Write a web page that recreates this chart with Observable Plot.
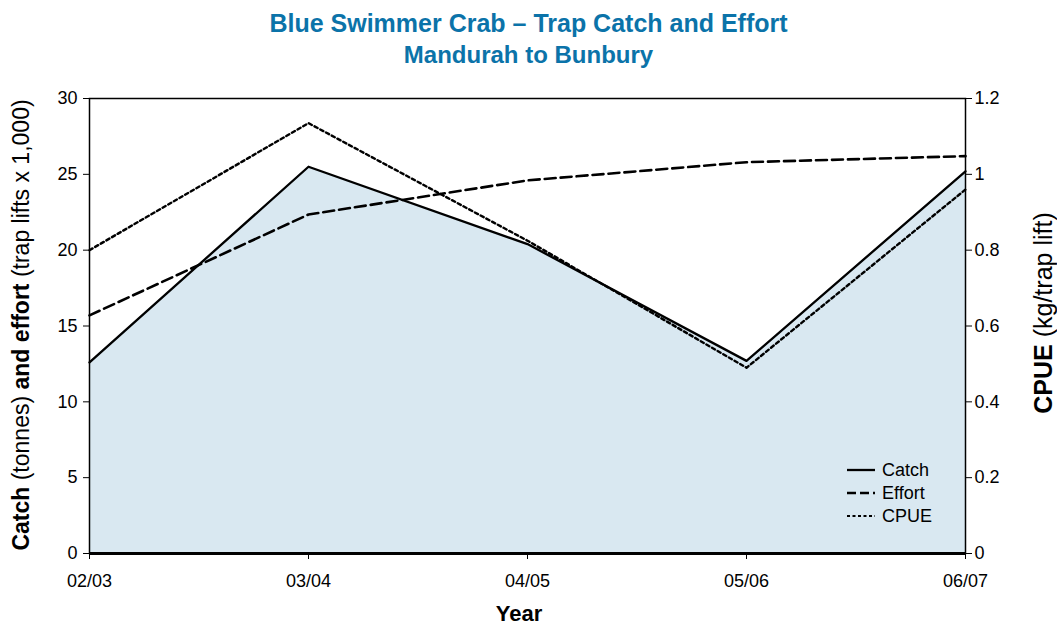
<!DOCTYPE html>
<html>
<head>
<meta charset="utf-8">
<script src="https://cdn.jsdelivr.net/npm/d3@7"></script>
<script src="https://cdn.jsdelivr.net/npm/@observablehq/plot@0.6"></script>
<style>
  body { margin: 0; background: #fff; }
  #wrap { position: relative; width: 1057px; }
  #head { height: 75px; text-align: center; font-family: "Liberation Sans", Arial, sans-serif; font-weight: bold; color: #0b73a9; }
  #t1 { font-size: 25px; padding-top: 8px; line-height: 30px; }
  #t2 { font-size: 24px; line-height: 30px; padding-top: 2px; }
</style>
</head>
<body>
<div id="wrap">
  <div id="head"><div id="t1">Blue Swimmer Crab – Trap Catch and Effort</div><div id="t2">Mandurah to Bunbury</div></div>
  <div id="chart"></div>
</div>
<script>
const years = ["02/03", "03/04", "04/05", "05/06", "06/07"];
const catchTonnes = [12.6, 25.5, 20.4, 12.7, 25.2];
const effortK = [15.7, 22.35, 24.6, 25.8, 26.2];
const cpueKg = [0.80, 1.135, 0.825, 0.49, 0.96];
const leftTicks = [0, 5, 10, 15, 20, 25, 30];
const rightTicks = [0, 0.2, 0.4, 0.6, 0.8, 1, 1.2];
const ratio = 25; // right axis 1.2 maps to left axis 30

const rows = years.map((year, i) => ({year, catch: catchTonnes[i], effort: effortK[i], cpue: cpueKg[i]}));

const chart = Plot.plot({
  width: 1057,
  height: 552,
  marginTop: 23,
  marginBottom: 74,
  marginLeft: 89,
  marginRight: 92,
  style: {fontFamily: "'Liberation Sans', Arial, sans-serif", fontSize: "18px", color: "#000", background: "transparent"},
  x: {type: "point", domain: years, padding: 0},
  y: {domain: [0, 30]},
  marks: [
    Plot.areaY(rows, {x: "year", y: "catch", fill: "#d9e8f1"}),
    Plot.lineY(rows, {x: "year", y: d => d.cpue * ratio, stroke: "#000", strokeWidth: 2.4, strokeDasharray: "3.5,3"}),
    Plot.lineY(rows, {x: "year", y: "effort", stroke: "#000", strokeWidth: 2.6, strokeDasharray: "11,5"}),
    Plot.lineY(rows, {x: "year", y: "catch", stroke: "#000", strokeWidth: 2.3}),
    Plot.frame({stroke: "#000", strokeWidth: 1.5}),
    Plot.ruleY([0], {stroke: "#000", strokeWidth: 3}),
    Plot.axisY(leftTicks, {anchor: "left", tickSize: 6, tickPadding: 6, label: null, fontSize: 18}),
    Plot.axisY(rightTicks.map(v => v * ratio), {anchor: "right", tickSize: 6, tickPadding: 3, label: null, fontSize: 18,
      tickFormat: d => String(+(d / ratio).toFixed(2))}),
    Plot.axisX(years, {anchor: "bottom", tickSize: 6, tickPadding: 15, label: null, fontSize: 18})
  ]
});
document.getElementById("chart").appendChild(chart);

const svg = d3.select(chart);
// Left axis label with mixed bold
const lt = svg.append("text")
  .attr("transform", "translate(29,250) rotate(-90)")
  .attr("text-anchor", "middle")
  .attr("font-size", 23)
  .attr("font-family", "'Liberation Sans', Arial, sans-serif")
  .attr("fill", "#000");
lt.append("tspan").attr("font-weight", "bold").text("Catch");
lt.append("tspan").text(" (tonnes) ");
lt.append("tspan").attr("font-weight", "bold").text("and effort");
lt.append("tspan").text(" (trap lifts x 1,000)");

const rt = svg.append("text")
  .attr("transform", "translate(1052,238) rotate(-90)")
  .attr("text-anchor", "middle")
  .attr("font-size", 25)
  .attr("font-family", "'Liberation Sans', Arial, sans-serif")
  .attr("fill", "#000");
rt.append("tspan").attr("font-weight", "bold").text("CPUE");
rt.append("tspan").text(" (kg/trap lift)");

svg.append("text")
  .attr("x", 519).attr("y", 546)
  .attr("text-anchor", "middle")
  .attr("font-size", 22)
  .attr("font-weight", "bold")
  .attr("font-family", "'Liberation Sans', Arial, sans-serif")
  .attr("fill", "#000")
  .text("Year");

// Legend
const legend = [
  {name: "Catch", dash: null, w: 2.3},
  {name: "Effort", dash: "9,4", w: 2.6},
  {name: "CPUE", dash: "3,2.5", w: 2.2}
];
const lg = svg.append("g").attr("font-family", "'Liberation Sans', Arial, sans-serif").attr("font-size", 18).attr("text-anchor", "start");
legend.forEach((d, i) => {
  const y = 395 + i * 23;
  lg.append("line").attr("x1", 847).attr("x2", 875).attr("y1", y).attr("y2", y)
    .attr("stroke", "#000").attr("stroke-width", d.w).attr("stroke-dasharray", d.dash);
  lg.append("text").attr("x", 882).attr("y", y).attr("dy", "0.35em").attr("fill", "#000").text(d.name);
});
</script>
</body>
</html>
